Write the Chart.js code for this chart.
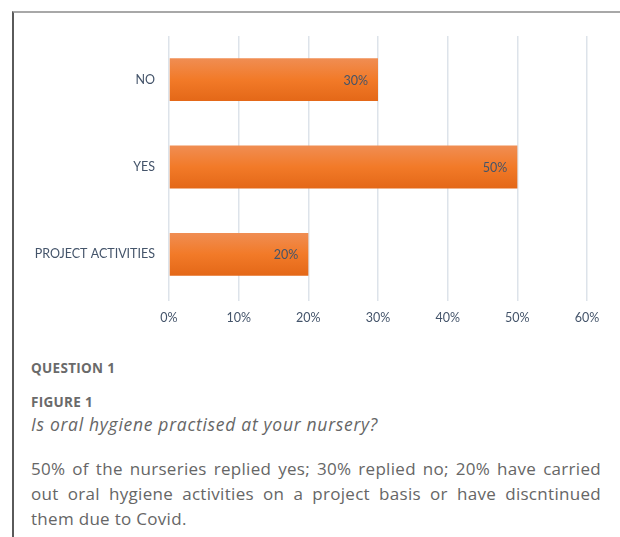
<!DOCTYPE html>
<html>
<head>
<meta charset="utf-8">
<script src="https://cdn.jsdelivr.net/npm/chart.js@4"></script>
<style>
  body { margin: 0; background: #fff; width: 620px; height: 537px; overflow: hidden; position: relative; font-family: "Open Sans", sans-serif; }
  #frame { position: absolute; left: 12px; top: 11px; width: 620px; height: 540px; border-left: 2px solid #5a5a5a; border-top: 2px solid #a8a8a8; }
  #chartBox { position: absolute; left: 0; top: 0; width: 620px; height: 340px; }
  .txt { position: absolute; left: 31px; color: #6a6a6a; }
  #question { top: 359px; font-weight: bold; font-size: 13.5px; letter-spacing: 0.3px; }
  #figure { top: 393px; font-weight: bold; font-size: 13.5px; letter-spacing: 0.3px; }
  #caption { top: 412px; font-style: italic; font-size: 17.5px; letter-spacing: 0.7px; color: #666; }
  #para { top: 456px; width: 570px; font-size: 17px; letter-spacing: 0.3px; line-height: 25px; color: #666; }
  #para div { text-align: justify; text-align-last: justify; white-space: nowrap; }
  #para div.last { text-align-last: left; }
</style>
</head>
<body>
<div id="frame"></div>
<div id="chartBox"><canvas id="barChart" width="620" height="340"></canvas></div>
<div class="txt" id="question">QUESTION 1</div>
<div class="txt" id="figure">FIGURE 1</div>
<div class="txt" id="caption">Is oral hygiene practised at your nursery?</div>
<div class="txt" id="para">
  <div>50% of the nurseries replied yes; 30% replied no; 20% have carried</div>
  <div>out oral hygiene activities on a project basis or have discntinued</div>
  <div class="last">them due to Covid.</div>
</div>
<script>
let categories = ['NO', 'YES', 'PROJECT ACTIVITIES'];
let answers = [0.30, 0.50, 0.20];
let tickValues = [0, 0.1, 0.2, 0.3, 0.4, 0.5, 0.6];

function pct(v) {
    return Math.round(v * 100) + '%';
}

// vertical orange gradient for each bar
function barFill(context) {
    let chart = context.chart;
    let yScale = chart.scales.y;
    if (!chart.chartArea || !yScale || context.dataIndex === undefined) {
        return '#f07c2c';
    }
    let center = yScale.getPixelForValue(context.dataIndex);
    let half = 21;
    let g = chart.ctx.createLinearGradient(0, center - half, 0, center + half);
    g.addColorStop(0, '#f08d52');
    g.addColorStop(0.5, '#f27a28');
    g.addColorStop(1, '#e46818');
    return g;
}

// value labels drawn inside the end of each bar
let insideLabels = {
    id: 'insideLabels',
    afterDatasetsDraw(chart) {
        let ctx = chart.ctx;
        let meta = chart.getDatasetMeta(0);
        ctx.save();
        ctx.font = '12.5px Lato, "Open Sans", sans-serif';
        ctx.fillStyle = '#44546a';
        ctx.textAlign = 'right';
        ctx.textBaseline = 'middle';
        meta.data.forEach((bar, i) => {
            ctx.fillText(pct(answers[i]), bar.x - 10, bar.y + 1);
        });
        ctx.restore();
    }
};

let ctx = document.getElementById('barChart').getContext('2d');
let chart = new Chart(ctx, {
    type: 'bar',
    data: {
        labels: categories,
        datasets: [{
            data: answers,
            backgroundColor: barFill,
            borderWidth: 0,
            categoryPercentage: 0.98,
            barPercentage: 0.5
        }]
    },
    options: {
        indexAxis: 'y',
        responsive: false,
        animation: false,
        layout: { padding: { top: 36, right: 33, left: 0, bottom: 0 } },
        plugins: {
            legend: { display: false },
            tooltip: { enabled: false }
        },
        scales: {
            x: {
                min: 0,
                max: 0.6,
                afterBuildTicks: (axis) => {
                    axis.ticks = tickValues.map(v => ({ value: v }));
                },
                afterFit: (axis) => { axis.height = 42; },
                grid: { color: '#dde3ea', lineWidth: 1.5, tickLength: 3 },
                border: { display: false },
                ticks: {
                    padding: 9,
                    color: '#44546a',
                    font: { family: 'Lato', size: 12.5 },
                    callback: (v) => pct(v)
                }
            },
            y: {
                afterFit: (axis) => { axis.width = 169; },
                grid: { display: false, drawTicks: false },
                border: { display: false },
                ticks: {
                    padding: 14,
                    color: '#44546a',
                    font: { family: 'Lato', size: 12.5 }
                }
            }
        }
    },
    plugins: [insideLabels]
});
</script>
</body>
</html>
